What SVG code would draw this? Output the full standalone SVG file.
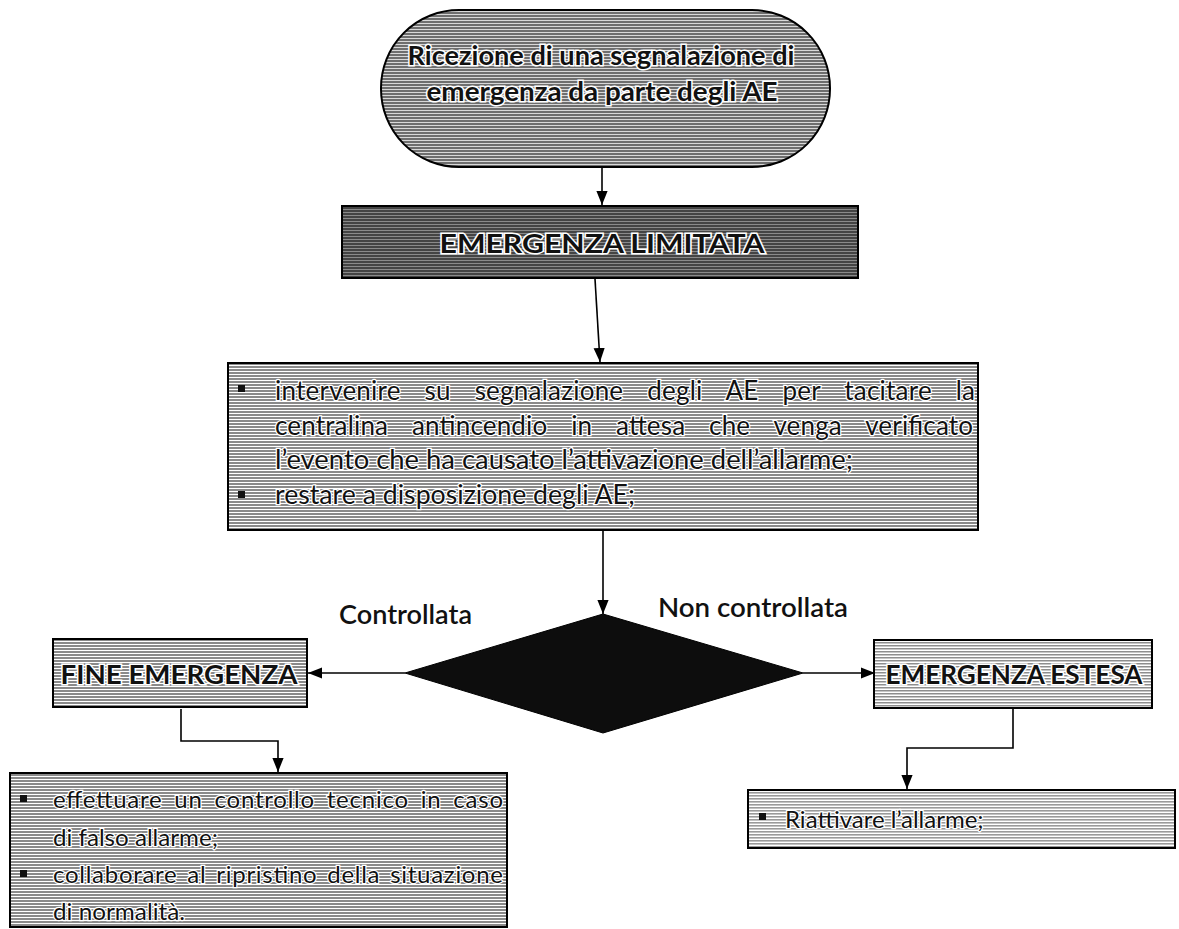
<svg xmlns="http://www.w3.org/2000/svg" width="1179" height="929" viewBox="0 0 1179 929">
<defs>
<style>
.box{stroke:#000;stroke-width:2}
.ttl{font-family:Lato,"Liberation Sans",sans-serif;font-weight:bold;font-size:27px;fill:#111;stroke:#fff;stroke-width:3;paint-order:stroke;text-anchor:middle}
.body{font-family:Lato,"Liberation Sans",sans-serif;font-size:26px;fill:#111;stroke:#fff;stroke-width:2.5;paint-order:stroke}
.body2{font-family:Lato,"Liberation Sans",sans-serif;font-size:24px;fill:#111;stroke:#fff;stroke-width:2.5;paint-order:stroke}
.lbl{font-family:Lato,"Liberation Sans",sans-serif;font-size:26px;font-weight:600;fill:#111}
.bul{fill:#111}
.conn{stroke:#000;stroke-width:1.6;fill:none}
</style>
<pattern id="stripe" width="4" height="3" patternUnits="userSpaceOnUse">
<rect width="4" height="3" fill="#ffffff"/>
<rect width="4" height="2" fill="#8a8a8a"/>
</pattern>
<pattern id="stripeL" width="4" height="3" patternUnits="userSpaceOnUse">
<rect width="4" height="3" fill="#ffffff"/>
<rect width="4" height="1.6" fill="#9a9a9a"/>
</pattern>
<pattern id="dark" width="4" height="3" patternUnits="userSpaceOnUse">
<rect width="4" height="3" fill="#8a8a8a"/>
<rect width="4" height="2" fill="#444"/>
</pattern>
<pattern id="mid" width="4" height="3" patternUnits="userSpaceOnUse">
<rect width="4" height="3" fill="#d8d8d8"/>
<rect width="4" height="2" fill="#6e6e6e"/>
</pattern>
<pattern id="light" width="4" height="3" patternUnits="userSpaceOnUse">
<rect width="4" height="3" fill="#ffffff"/>
<rect width="4" height="1.5" fill="#8e8e8e"/>
</pattern>
<marker id="ahB" viewBox="0 0 10 10" refX="10" refY="5" markerWidth="14" markerHeight="14" markerUnits="userSpaceOnUse" orient="auto">
<path d="M0,1 L10,5 L0,9 z" fill="#000"/>
</marker>
</defs>
<rect width="1179" height="929" fill="#fff"/>

<g id="connectors">
<line class="conn" x1="602" y1="167" x2="602" y2="205" marker-end="url(#ahB)"/>
<line class="conn" x1="595" y1="279" x2="600" y2="362" marker-end="url(#ahB)"/>
<line class="conn" x1="603" y1="530" x2="603" y2="614" marker-end="url(#ahB)"/>
<line class="conn" x1="405" y1="673" x2="308" y2="673" marker-end="url(#ahB)"/>
<line class="conn" x1="803" y1="673" x2="875" y2="673" marker-end="url(#ahB)"/>
<polyline class="conn" points="181,709 181,741 278,741 278,772" marker-end="url(#ahB)"/>
<polyline class="conn" points="1013,709 1013,748 907,748 907,789" marker-end="url(#ahB)"/>
</g>

<g id="start">
<rect class="box" x="381" y="10" width="449" height="157" rx="78" ry="78" fill="url(#mid)"/>
<text class="ttl" x="601" y="65" textLength="387" lengthAdjust="spacingAndGlyphs">Ricezione di una segnalazione di</text>
<text class="ttl" x="602" y="101" textLength="351" lengthAdjust="spacingAndGlyphs">emergenza  da parte degli AE</text>
</g>

<g id="limitata">
<rect class="box" x="342" y="206" width="516" height="72" fill="url(#dark)"/>
<text class="ttl" x="602" y="253" textLength="325" lengthAdjust="spacingAndGlyphs">EMERGENZA LIMITATA</text>
</g>

<g id="azioni">
<rect class="box" x="228" y="363" width="750" height="167" fill="url(#stripe)"/>
<rect class="bul" x="238" y="385" width="7" height="7"/>
<text class="body" x="275" y="400" word-spacing="17" textLength="700" lengthAdjust="spacing">intervenire su segnalazione degli AE per tacitare la</text>
<text class="body" x="275" y="435" word-spacing="17" textLength="698" lengthAdjust="spacing">centralina antincendio in attesa che venga verificato</text>
<text class="body" x="275" y="469" textLength="578" lengthAdjust="spacingAndGlyphs">l’evento che ha causato l’attivazione dell’allarme;</text>
<rect class="bul" x="238" y="491" width="7" height="7"/>
<text class="body" x="275" y="504" textLength="360" lengthAdjust="spacingAndGlyphs">restare a disposizione degli AE;</text>
</g>

<g id="decisione">
<polygon points="603,614 803,673 603,733 405,673" fill="#0d0d0d" stroke="#000" stroke-width="1"/>
</g>

<text class="lbl" x="339" y="624" textLength="133" lengthAdjust="spacingAndGlyphs">Controllata</text>
<text class="lbl" x="658" y="617" textLength="190" lengthAdjust="spacingAndGlyphs">Non controllata</text>

<g id="fine">
<rect class="box" x="53" y="639" width="254" height="68" fill="url(#stripe)"/>
<text class="ttl" x="179" y="684" textLength="237" lengthAdjust="spacingAndGlyphs">FINE EMERGENZA</text>
</g>

<g id="estesa">
<rect class="box" x="874" y="640" width="278" height="68" fill="url(#light)"/>
<text class="ttl" x="1014" y="684" textLength="257" lengthAdjust="spacingAndGlyphs">EMERGENZA ESTESA</text>
</g>

<g id="azioniFine">
<rect class="box" x="10" y="773" width="497" height="154" fill="url(#stripe)"/>
<rect class="bul" x="20" y="795" width="7" height="7"/>
<text class="body2" x="53" y="808" word-spacing="5" textLength="450" lengthAdjust="spacing">effettuare un controllo tecnico in caso</text>
<text class="body2" x="53" y="846" textLength="165" lengthAdjust="spacingAndGlyphs">di falso allarme;</text>
<rect class="bul" x="20" y="870" width="7" height="7"/>
<text class="body2" x="53" y="883" word-spacing="3" textLength="450" lengthAdjust="spacing">collaborare al ripristino della situazione</text>
<text class="body2" x="53" y="920" textLength="132" lengthAdjust="spacingAndGlyphs">di normalità.</text>
</g>

<g id="azioniEstesa">
<rect class="box" x="748" y="790" width="427" height="58" fill="url(#stripeL)"/>
<rect class="bul" x="759" y="813" width="7" height="7"/>
<text class="body2" x="785" y="828">Riattivare l’allarme;</text>
</g>
</svg>
